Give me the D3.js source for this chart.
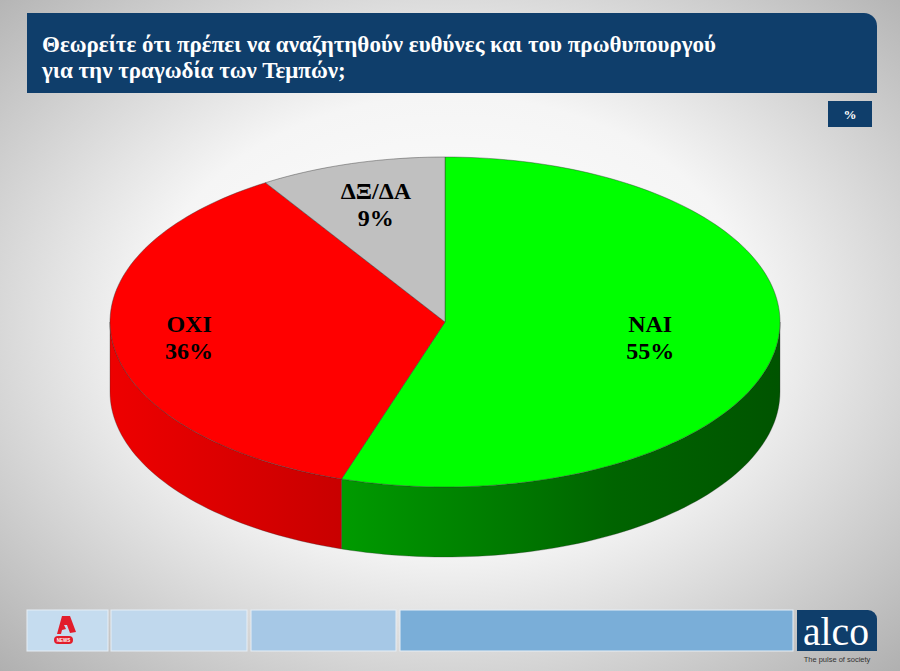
<!DOCTYPE html>
<html><head><meta charset="utf-8">
<script src="https://cdn.jsdelivr.net/npm/d3@7/dist/d3.min.js"></script>
<style>html,body{margin:0;padding:0;background:#fff;}svg{display:block;}</style>
</head><body>
<script>
const titleLines = ["Θεωρείτε ότι πρέπει να αναζητηθούν ευθύνες και του πρωθυπουργού", "για την τραγωδία των Τεμπών;"];
const categories = ["ΝΑΙ", "ΟΧΙ", "ΔΞ/ΔΑ"];
const values = [55, 36, 9];
const unitLabel = "%";

// styling / layout (not data)
const topColors = ["#00ff00", "#ff0000", "#c0c0c0"];
const sideStops = [["#00b400", "#009a00", "#006400", "#005400"], ["#ee0000", "#c80000", "#a80000", "#900000"], ["#a0a0a0", "#8a8a8a", "#707070", "#606060"]];
const labelRadius = [0.62, 0.77, 0.74];
const SERIF = "'Liberation Serif', 'Times New Roman', serif";

const W = 900, H = 671;
const svg = d3.select("body").append("svg").attr("width", W).attr("height", H);
const defs = svg.append("defs");

const bg = defs.append("radialGradient").attr("id", "bg").attr("cx", "50%").attr("cy", "48%").attr("r", "75%");
bg.append("stop").attr("offset", "0%").attr("stop-color", "#ffffff");
bg.append("stop").attr("offset", "45%").attr("stop-color", "#f5f5f5");
bg.append("stop").attr("offset", "100%").attr("stop-color", "#ababab");
svg.append("rect").attr("width", W).attr("height", H).attr("fill", "url(#bg)");

const navy = "#0f3e6b";
function roundTR(x, y, w, h, r) {
  const p = d3.path();
  p.moveTo(x, y); p.lineTo(x + w - r, y);
  p.arcTo(x + w, y, x + w, y + r, r);
  p.lineTo(x + w, y + h); p.lineTo(x, y + h); p.closePath();
  return p.toString();
}
svg.append("path").attr("d", roundTR(27, 13, 850, 80, 13)).attr("fill", navy);
svg.append("g").selectAll("text").data(titleLines).join("text")
  .attr("x", 42).attr("y", (d, i) => 52 + i * 26)
  .attr("fill", "#fff").style("font-family", SERIF)
  .attr("font-weight", "bold").attr("font-size", 23).text(d => d);

svg.append("rect").attr("x", 828).attr("y", 101).attr("width", 44).attr("height", 26).attr("fill", navy);
svg.append("text").attr("x", 850).attr("y", 119).attr("text-anchor", "middle").attr("fill", "#fff")
  .style("font-family", SERIF).attr("font-weight", "bold").attr("font-size", 13).text(unitLabel);

// 3D pie
const cx = 445, cy = 322, rx = 335, ry = 165, depth = 70;
const pie = d3.pie().sort(null).value(d => d).startAngle(0).endAngle(2 * Math.PI);
const arcs = pie(values);
const px = d3.scaleLinear().domain([-1, 1]).range([cx - rx, cx + rx]);
const py = d3.scaleLinear().domain([-1, 1]).range([cy - ry, cy + ry]);
const pt = (a, k = 1, dz = 0) => [px(k * Math.sin(a)), py(-k * Math.cos(a)) + dz];
const N = 120;
function arcPts(a0, a1, dz) {
  const n = Math.max(2, Math.ceil(N * Math.abs(a1 - a0) / Math.PI));
  return d3.range(n + 1).map(i => pt(a0 + (a1 - a0) * i / n, 1, dz));
}
const line = d3.line();

arcs.forEach((d, i) => {
  const g = defs.append("linearGradient").attr("id", "side" + i).attr("gradientUnits", "userSpaceOnUse")
    .attr("x1", cx - rx).attr("x2", cx + rx).attr("y1", 0).attr("y2", 0);
  sideStops[i].forEach((c, j) => g.append("stop").attr("offset", [0, 0.35, 0.75, 1][j]).attr("stop-color", c));
});

const gPie = svg.append("g");
arcs.forEach((d, i) => {
  const a0 = Math.max(d.startAngle, Math.PI / 2), a1 = Math.min(d.endAngle, 3 * Math.PI / 2);
  if (a1 <= a0) return;
  const top = arcPts(a0, a1, 0);
  const bot = arcPts(a1, a0, depth);
  gPie.append("path").attr("d", line(top.concat(bot)) + "Z")
    .attr("fill", `url(#side${i})`).attr("stroke", "#2a2a2a").attr("stroke-width", 0.5).attr("stroke-opacity", 0.6);
});
arcs.forEach((d, i) => {
  const pts = [[cx, cy]].concat(arcPts(d.startAngle, d.endAngle, 0));
  gPie.append("path").attr("d", line(pts) + "Z")
    .attr("fill", topColors[i]).attr("stroke", "#333").attr("stroke-width", 0.6).attr("stroke-opacity", 0.7);
});

const gLab = svg.append("g").style("font-family", SERIF)
  .attr("font-weight", "bold").attr("font-size", 24).attr("fill", "#000").attr("text-anchor", "middle");
arcs.forEach((d, i) => {
  const m = (d.startAngle + d.endAngle) / 2;
  const [x, y] = pt(m, labelRadius[i]);
  const t = gLab.append("text").attr("x", x).attr("y", y - 6);
  t.append("tspan").attr("x", x).text(categories[i]);
  t.append("tspan").attr("x", x).attr("dy", 27).text(values[i] + "%");
});

// footer
const fy = 610, fh = 41;
const boxes = [[27, 81, "#c5dcef"], [111, 136, "#c0d8ed"], [251, 145, "#a6c8e6"], [400, 393, "#7aaed8"]];
svg.append("g").selectAll("rect").data(boxes).join("rect")
  .attr("x", d => d[0]).attr("y", fy).attr("width", d => d[1]).attr("height", fh).attr("fill", d => d[2])
  .attr("stroke", "#e6eef5").attr("stroke-width", 1);
svg.append("path").attr("d", roundTR(797, fy, 80, fh, 9)).attr("fill", navy);
svg.append("text").attr("x", 803).attr("y", 645).attr("fill", "#fff")
  .style("font-family", SERIF).attr("font-size", 40).attr("textLength", 66).attr("lengthAdjust", "spacingAndGlyphs").text("alco");
svg.append("text").attr("x", 837).attr("y", 662).attr("text-anchor", "middle").attr("fill", "#333")
  .style("font-family", "'Liberation Sans', Arial, sans-serif").attr("font-size", 7.5).text("The pulse of society");
const lg = svg.append("g");
lg.append("path").attr("d", "M57,634 L62,616 L70,616 L76,632 L70,633 L67,625 L64,625 L66,629 L62,630 L61,634 Z").attr("fill", "#e21d2b");
lg.append("rect").attr("x", 54).attr("y", 636).attr("width", 19).attr("height", 8).attr("rx", 4).attr("fill", "#e21d2b");
lg.append("text").attr("x", 63.5).attr("y", 642).attr("text-anchor", "middle").attr("fill", "#fff")
  .style("font-family", "'Liberation Sans', sans-serif").attr("font-size", 4.5).attr("font-weight", "bold").text("NEWS");
</script>
</body></html>
